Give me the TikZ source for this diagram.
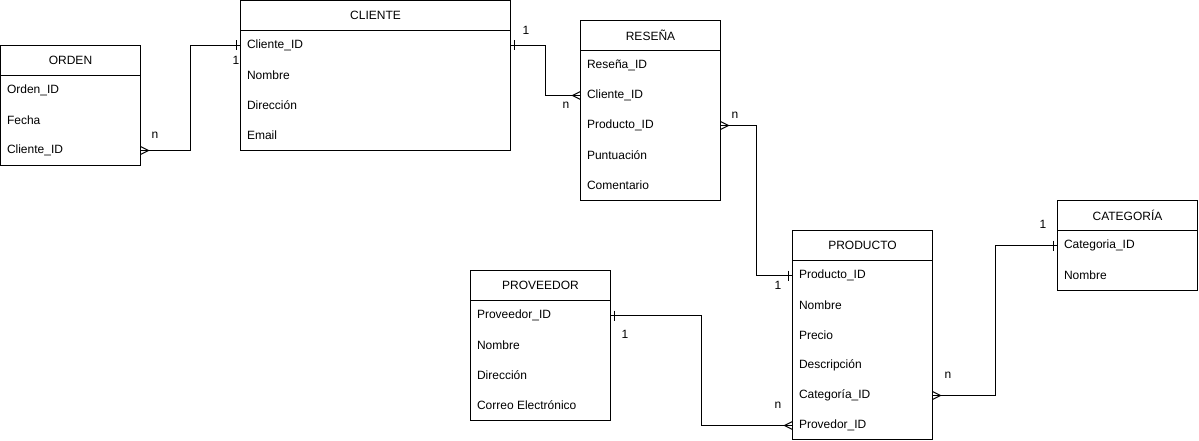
\documentclass[tikz,border=0pt]{standalone}
\usepackage{fontspec}
\setmainfont{Liberation Sans}
\begin{document}
\begin{tikzpicture}[x=1pt,y=-1pt,line width=1pt,
  font=\fontsize{12}{14}\selectfont,
  ent/.style={draw,rectangle,anchor=north west,inner sep=0pt,outer sep=0pt,minimum width=140pt},
  fld/.style={anchor=west,inner sep=0pt},
  lbl/.style={inner sep=0pt},
  rel/.style={line width=1pt}]
\useasboundingbox (0,0) rectangle (1199,441);

% ORDEN
\node[ent,minimum height=120pt] (orden) at (0.5,45.5) {};
\draw ([yshift=-30pt]orden.north west) -- ([yshift=-30pt]orden.north east);
\node[lbl] (ordenT) at ([yshift=-15pt]orden.north) {ORDEN};
\node[fld] (ordenA) at ([xshift=6pt,yshift=-45pt]orden.north west) {Orden\_ID};
\node[fld] (ordenB) at ([xshift=6pt,yshift=-75pt]orden.north west) {Fecha};
\node[fld] (ordenC) at ([xshift=6pt,yshift=-105pt]orden.north west) {Cliente\_ID};

% CLIENTE
\node[ent,minimum width=270pt,minimum height=150pt] (cliente) at (240.5,0.5) {};
\draw ([yshift=-30pt]cliente.north west) -- ([yshift=-30pt]cliente.north east);
\node[lbl] (clienteT) at ([yshift=-15pt]cliente.north) {CLIENTE};
\node[fld] (clienteA) at ([xshift=6pt,yshift=-45pt]cliente.north west) {Cliente\_ID};
\node[fld] (clienteB) at ([xshift=6pt,yshift=-75pt]cliente.north west) {Nombre};
\node[fld] (clienteC) at ([xshift=6pt,yshift=-105pt]cliente.north west) {Dirección};
\node[fld] (clienteD) at ([xshift=6pt,yshift=-135pt]cliente.north west) {Email};

% RESEÑA
\node[ent,minimum height=180pt] (resena) at (580.5,20.5) {};
\draw ([yshift=-30pt]resena.north west) -- ([yshift=-30pt]resena.north east);
\node[lbl] (resenaT) at ([yshift=-15pt]resena.north) {RESEÑA};
\node[fld] (resenaA) at ([xshift=6pt,yshift=-45pt]resena.north west) {Reseña\_ID};
\node[fld] (resenaB) at ([xshift=6pt,yshift=-75pt]resena.north west) {Cliente\_ID};
\node[fld] (resenaC) at ([xshift=6pt,yshift=-105pt]resena.north west) {Producto\_ID};
\node[fld] (resenaD) at ([xshift=6pt,yshift=-135pt]resena.north west) {Puntuación};
\node[fld] (resenaE) at ([xshift=6pt,yshift=-165pt]resena.north west) {Comentario};

% PRODUCTO
\node[ent,minimum height=209pt] (producto) at (792.5,230.5) {};
\draw ([yshift=-30pt]producto.north west) -- ([yshift=-30pt]producto.north east);
\node[lbl] (productoT) at ([yshift=-15pt]producto.north) {PRODUCTO};
\node[fld] (productoA) at ([xshift=6pt,yshift=-45pt]producto.north west) {Producto\_ID};
\node[fld] (productoB) at ([xshift=6pt,yshift=-75pt]producto.north west) {Nombre};
\node[fld] (productoC) at ([xshift=6pt,yshift=-105pt]producto.north west) {Precio};
\node[fld] (productoD) at ([xshift=6pt,yshift=-135pt]producto.north west) {Descripción};
\node[fld] (productoE) at ([xshift=6pt,yshift=-165pt]producto.north west) {Categoría\_ID};
\node[fld] (productoF) at ([xshift=6pt,yshift=-195pt]producto.north west) {Provedor\_ID};

% CATEGORÍA
\node[ent,minimum height=90pt] (categoria) at (1057.5,200.5) {};
\draw ([yshift=-30pt]categoria.north west) -- ([yshift=-30pt]categoria.north east);
\node[lbl] (categoriaT) at ([yshift=-15pt]categoria.north) {CATEGORÍA};
\node[fld] (categoriaA) at ([xshift=6pt,yshift=-45pt]categoria.north west) {Categoria\_ID};
\node[fld] (categoriaB) at ([xshift=6pt,yshift=-75pt]categoria.north west) {Nombre};

% PROVEEDOR
\node[ent,minimum height=150pt] (proveedor) at (470.5,270.5) {};
\draw ([yshift=-30pt]proveedor.north west) -- ([yshift=-30pt]proveedor.north east);
\node[lbl] (proveedorT) at ([yshift=-15pt]proveedor.north) {PROVEEDOR};
\node[fld] (proveedorA) at ([xshift=6pt,yshift=-45pt]proveedor.north west) {Proveedor\_ID};
\node[fld] (proveedorB) at ([xshift=6pt,yshift=-75pt]proveedor.north west) {Nombre};
\node[fld] (proveedorC) at ([xshift=6pt,yshift=-105pt]proveedor.north west) {Dirección};
\node[fld] (proveedorD) at ([xshift=6pt,yshift=-135pt]proveedor.north west) {Correo Electrónico};

% bend coordinates
\coordinate (b1) at (190.5,0);
\coordinate (b2) at (545.5,0);
\coordinate (b3) at (756.5,0);
\coordinate (b4) at (701.5,0);
\coordinate (b5) at (995.5,0);

% endpoints on box edges
\coordinate (e1a) at (orden.east |- ordenC);
\coordinate (e1b) at (cliente.west |- clienteA);
\coordinate (e2a) at (cliente.east |- clienteA);
\coordinate (e2b) at (resena.west |- resenaB);
\coordinate (e3a) at (resena.east |- resenaC);
\coordinate (e3b) at (producto.west |- productoA);
\coordinate (e4a) at (proveedor.east |- proveedorA);
\coordinate (e4b) at (producto.west |- productoF);
\coordinate (e5a) at (producto.east |- productoE);
\coordinate (e5b) at (categoria.west |- categoriaA);

% connectors
\draw[rel] (e1a) -| (b1 |- e1b) -- (e1b);
\draw[rel] (e2a) -| (b2 |- e2b) -- (e2b);
\draw[rel] (e3a) -| (b3 |- e3b) -- (e3b);
\draw[rel] (e4a) -| (b4 |- e4b) -- (e4b);
\draw[rel] (e5a) -| (b5 |- e5b) -- (e5b);

% crow's feet (many)
\draw[rel] (e1a) ++(0,-4) -- ++(8,4) -- ++(-8,4);
\draw[rel] (e2b) ++(0,-4) -- ++(-8,4) -- ++(8,4);
\draw[rel] (e3a) ++(0,-4) -- ++(8,4) -- ++(-8,4);
\draw[rel] (e4b) ++(0,-4) -- ++(-8,4) -- ++(8,4);
\draw[rel] (e5a) ++(0,-4) -- ++(8,4) -- ++(-8,4);

% bars (one)
\draw[rel] (e1b) ++(-4,-5) -- ++(0,10);
\draw[rel] (e2a) ++(4,-5) -- ++(0,10);
\draw[rel] (e3b) ++(-4,-5) -- ++(0,10);
\draw[rel] (e4a) ++(4,-5) -- ++(0,10);
\draw[rel] (e5b) ++(-4,-5) -- ++(0,10);

% cardinality labels
\node[lbl] (l1a) at (155,135) {n};
\node[lbl] (l1b) at (236,60) {1};
\node[lbl] (l2a) at (526,30) {1};
\node[lbl] (l2b) at (566,105) {n};
\node[lbl] (l3a) at (735,115) {n};
\node[lbl] (l3b) at (778,285) {1};
\node[lbl] (l4a) at (625,334) {1};
\node[lbl] (l4b) at (778,405) {n};
\node[lbl] (l5a) at (948,375) {n};
\node[lbl] (l5b) at (1043,224) {1};
\end{tikzpicture}
\end{document}
